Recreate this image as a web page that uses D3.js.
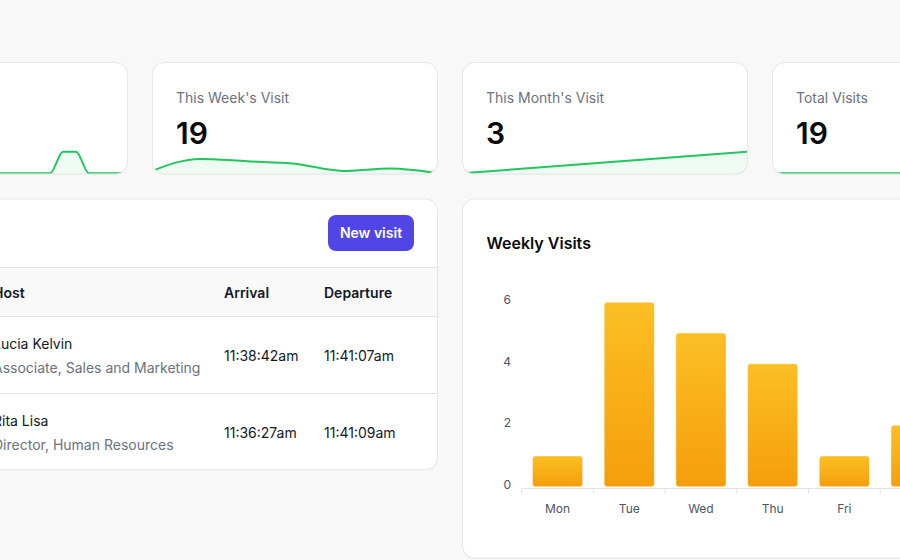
<!DOCTYPE html>
<html>
<head>
<meta charset="utf-8">
<script src="https://cdn.jsdelivr.net/npm/d3@7"></script>
<style>
  html, body { margin: 0; padding: 0; background: #f8f8f8; }
  svg { display: block; font-family: Inter, "Noto Sans", sans-serif; }
</style>
</head>
<body>
<svg id="chart" width="900" height="560"></svg>
<script>
// ---------- data ----------
const statTitles = ["", "This Week's Visit", "This Month's Visit", "Total Visits"];
const statValues = ["", 19, 3, 19];
const todaySeries = [0,0,0,0,0,0,0,0,0,0,0,0,0,0,0,0,0,2,2,0,0,0,0];
const weekSeries = [1, 6, 5, 4, 1, 2, 0];
const monthSeries = [0, 3];
const totalSeries = [0,0,0,0,0,0,0,0,0,0,0,19];
const sparkMax = [2, 9, 3, 19];

const tableHeaders = ["Host", "Arrival", "Departure"];
const hostNames = ["Lucia Kelvin", "Rita Lisa"];
const hostRoles = ["Associate, Sales and Marketing", "Director, Human Resources"];
const arrivals = ["11:38:42am", "11:36:27am"];
const departures = ["11:41:07am", "11:41:09am"];
const buttonLabel = "New visit";

const chartTitle = "Weekly Visits";
const days = ["Mon", "Tue", "Wed", "Thu", "Fri", "Sat", "Sun"];
const weeklyVisits = [1, 6, 5, 4, 1, 2, 0];
const yTicks = [0, 2, 4, 6];

// ---------- drawing ----------
const svg = d3.select("#chart");
const defs = svg.append("defs");
svg.append("rect").attr("width", 900).attr("height", 560).attr("fill", "#f8f8f8");

function card(x, y, w, h, id) {
  svg.append("rect").attr("x", x).attr("y", y + 0.6).attr("width", w).attr("height", h)
    .attr("rx", 12).attr("fill", "rgba(0,0,0,0.035)");
  svg.append("rect").attr("x", x + 0.5).attr("y", y + 0.5).attr("width", w - 1).attr("height", h - 1)
    .attr("rx", 12).attr("fill", "#fff").attr("stroke", "#e7e7e9");
  defs.append("clipPath").attr("id", id).append("rect")
    .attr("x", x + 1).attr("y", y + 1).attr("width", w - 2).attr("height", h - 2).attr("rx", 11);
  return svg.append("g").attr("clip-path", `url(#${id})`);
}

// stat cards
const statX = [-158, 152, 462, 772];
const statY = 62, statW = 286, statH = 112.5;
const series = [todaySeries, weekSeries, monthSeries, totalSeries];
statX.forEach((cx, i) => {
  const g = card(cx, statY, statW, statH, "sc" + i);
  const data = series[i];
  const xDomainMax = i === 0 ? 22 : data.length - 1;
  const x = d3.scaleLinear().domain([0, xDomainMax]).range([cx, cx + statW]);
  const y = d3.scaleLinear().domain([0, sparkMax[i]]).range([statY + statH - 1.2, statY + statH - 22.8]);
  const area = d3.area().x((d, j) => x(j)).y0(statY + statH).y1(d => y(d)).curve(d3.curveMonotoneX);
  const line = d3.line().x((d, j) => x(j)).y(d => y(d)).curve(d3.curveMonotoneX);
  g.append("path").datum(data).attr("d", area).attr("fill", "rgba(34,197,94,0.08)");
  g.append("path").datum(data).attr("d", line).attr("fill", "none")
    .attr("stroke", "#22c55e").attr("stroke-width", 2);
  if (statTitles[i]) {
    svg.append("text").attr("x", cx + 24).attr("y", 102.7).attr("font-size", 14)
      .attr("fill", "#6b7280").text(statTitles[i]);
    svg.append("text").attr("x", cx + 24).attr("y", 144.3).attr("font-size", 30)
      .attr("font-weight", 600).attr("fill", "#0a0a0a").text(statValues[i]);
  }
});

// table card
const tX = -158, tY = 198.5, tW = 596, tH = 271.5;
const tg = card(tX, tY, tW, tH, "tc");
tg.append("rect").attr("x", tX).attr("y", 267).attr("width", tW).attr("height", 49).attr("fill", "#f9f9fa");
[267.5, 316.5, 393.5].forEach(yy => {
  tg.append("line").attr("x1", tX).attr("x2", tX + tW).attr("y1", yy).attr("y2", yy)
    .attr("stroke", "#e5e7eb");
});
svg.append("rect").attr("x", 328).attr("y", 215).attr("width", 86).attr("height", 36).attr("rx", 8)
  .attr("fill", "#4f46e5");
svg.append("text").attr("x", 371).attr("y", 238.3).attr("text-anchor", "middle").attr("font-size", 14)
  .attr("font-weight", 600).attr("fill", "#fff").text(buttonLabel);
const colX = [-7, 224, 324];
tableHeaders.forEach((h, i) => {
  tg.append("text").attr("x", colX[i]).attr("y", 297.5).attr("font-size", 14).attr("font-weight", 600)
    .attr("fill", "#111827").text(h);
});
hostNames.forEach((n, r) => {
  const top = 316 + r * 77;
  tg.append("text").attr("x", colX[0]).attr("y", top + 32.6).attr("font-size", 14).attr("fill", "#111827").text(n);
  tg.append("text").attr("x", colX[0]).attr("y", top + 56.6).attr("font-size", 14).attr("fill", "#6b7280").text(hostRoles[r]);
  tg.append("text").attr("x", colX[1]).attr("y", top + 44.8).attr("font-size", 14).attr("fill", "#111827").text(arrivals[r]);
  tg.append("text").attr("x", colX[2]).attr("y", top + 44.8).attr("font-size", 14).attr("fill", "#111827").text(departures[r]);
});

// weekly visits card
const wX = 462, wY = 198.5, wW = 600, wH = 360;
const wg = card(wX, wY, wW, wH, "wc");
svg.append("text").attr("x", 486.5).attr("y", 249.3).attr("font-size", 16).attr("font-weight", 600)
  .attr("fill", "#0a0a0a").text(chartTitle);

const grad = defs.append("linearGradient").attr("id", "barGrad").attr("x1", 0).attr("y1", 0).attr("x2", 0).attr("y2", 1);
grad.append("stop").attr("offset", "0%").attr("stop-color", "#fbbf24");
grad.append("stop").attr("offset", "100%").attr("stop-color", "#f59e0b");

const xB = d3.scaleBand().domain(days).range([521.7, 521.7 + 7 * 71.7]).paddingInner(0.3).paddingOuter(0.15);
const yB = d3.scaleLinear().domain([0, 6]).range([486.7, 302.3]);

wg.selectAll("rect.bar").data(weeklyVisits).join("rect").attr("class", "bar")
  .attr("x", (d, i) => xB(days[i]))
  .attr("y", d => yB(d))
  .attr("width", xB.bandwidth())
  .attr("height", d => yB(0) - yB(d))
  .attr("rx", 3)
  .attr("fill", "url(#barGrad)")
  .attr("stroke", "rgba(255,255,255,0.45)").attr("stroke-width", 1);

// x axis
const axisY = yB(0) + 1.8;
const step = xB.step();
const xStart = xB.range()[0];
wg.append("line").attr("x1", xStart).attr("x2", xB.range()[1]).attr("y1", axisY).attr("y2", axisY)
  .attr("stroke", "#e2e2e4");
d3.range(days.length + 1).forEach(k => {
  wg.append("line").attr("x1", xStart + k * step).attr("x2", xStart + k * step)
    .attr("y1", axisY).attr("y2", axisY + 5).attr("stroke", "#e2e2e4");
});
wg.selectAll("text.xl").data(days).join("text").attr("class", "xl")
  .attr("x", d => xB(d) + xB.bandwidth() / 2).attr("y", 513)
  .attr("text-anchor", "middle").attr("font-size", 12).attr("fill", "#4b5563").text(d => d);

// y labels
wg.selectAll("text.yl").data(yTicks).join("text").attr("class", "yl")
  .attr("x", 511).attr("y", d => yB(d) + 2)
  .attr("text-anchor", "end").attr("font-size", 12).attr("fill", "#4b5563").text(d => d);
</script>
</body>
</html>
